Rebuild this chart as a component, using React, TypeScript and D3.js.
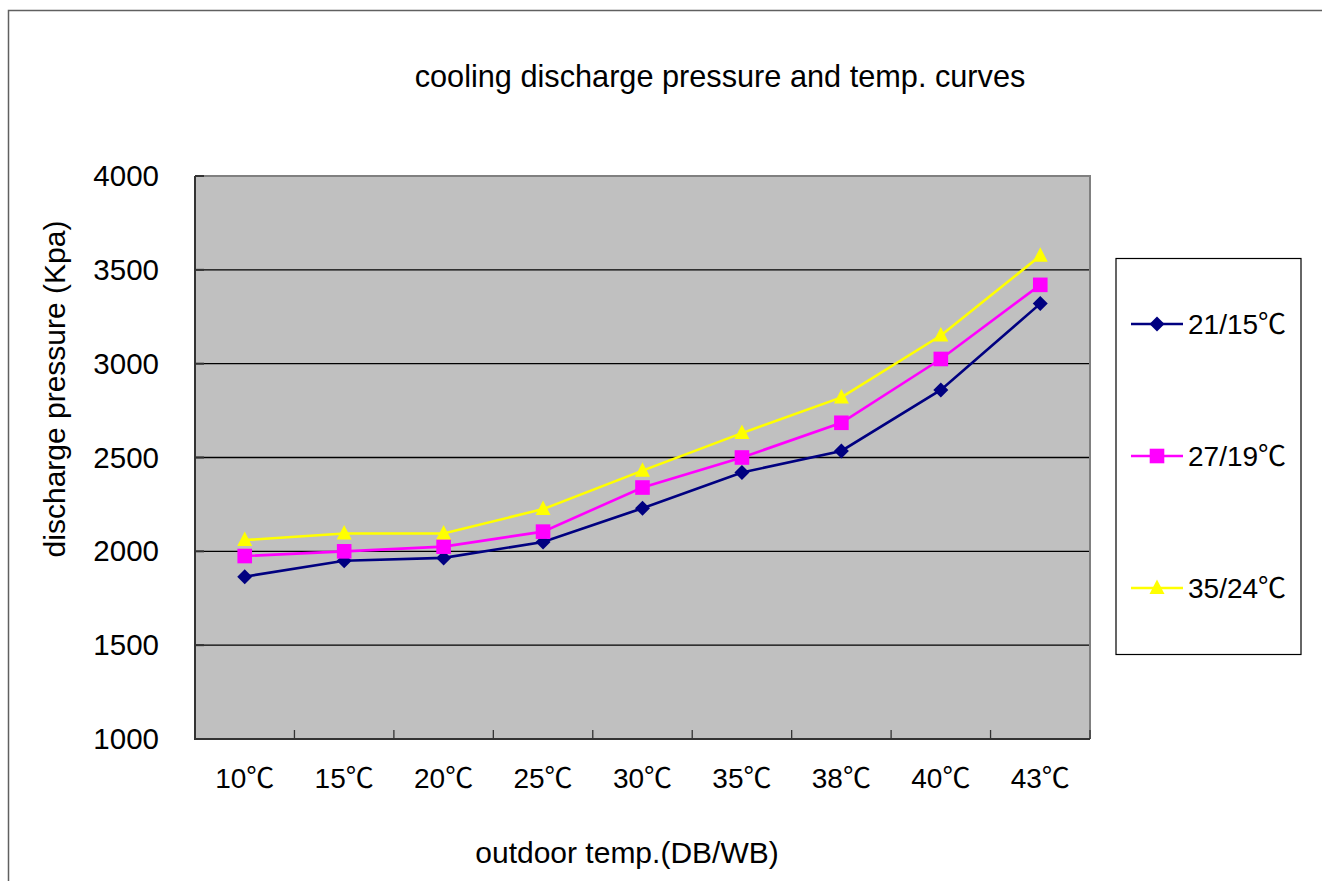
import React from "react";
import * as d3 from "d3";

const categories = ["10℃", "15℃", "20℃", "25℃", "30℃", "35℃", "38℃", "40℃", "43℃"];
const seriesNames = ["21/15℃", "27/19℃", "35/24℃"];
const series1 = [1865, 1950, 1965, 2050, 2230, 2420, 2535, 2860, 3320];
const series2 = [1975, 2000, 2025, 2105, 2340, 2500, 2685, 3025, 3420];
const series3 = [2060, 2095, 2095, 2225, 2430, 2630, 2820, 3150, 3575];
const yTicks = [1000, 1500, 2000, 2500, 3000, 3500, 4000];
const colors = ["#000080", "#FF00FF", "#FFFF00"];
const markers = ["diamond", "square", "triangle"];

const FONT = "'Liberation Sans', Arial, 'Noto Sans CJK SC', sans-serif";

function Marker({ type, x, y, color }: { type: string; x: number; y: number; color: string }) {
  if (type === "diamond") {
    const r = 7.5;
    return <path d={`M${x},${y - r}L${x + r},${y}L${x},${y + r}L${x - r},${y}Z`} fill={color} />;
  }
  if (type === "square") {
    const r = 7.3;
    return <rect x={x - r} y={y - r} width={2 * r} height={2 * r} fill={color} />;
  }
  return <path d={`M${x},${y - 8.5}L${x + 7.5},${y + 6}L${x - 7.5},${y + 6}Z`} fill={color} />;
}

export default function App() {
  const left = 195, right = 1090, top = 176, bottom = 739;
  const x = d3.scaleBand<string>().domain(categories).range([left, right]).padding(0);
  const y = d3.scaleLinear().domain([1000, 4000]).range([bottom, top]);
  const cx = (c: string) => (x(c) as number) + x.bandwidth() / 2;
  const data = [series1, series2, series3];
  const line = d3
    .line<number>()
    .x((_, i) => cx(categories[i]))
    .y((d) => y(d));

  const legendY = [324, 456, 588];

  return (
    <svg
      width={1322}
      height={881}
      style={{ position: "absolute", left: 0, top: 0, background: "#fff" }}
      fontFamily={FONT}
    >
      <rect x={0} y={0} width={1322} height={881} fill="#fff" />
      {/* outer frame */}
      <path d="M8.5,881V10.5H1322" fill="none" stroke="#606060" strokeWidth={1.5} />

      {/* title */}
      <text x={720} y={87} textAnchor="middle" fontSize={30.7} fill="#000">
        cooling discharge pressure and temp. curves
      </text>

      {/* plot area */}
      <rect x={left} y={top} width={right - left} height={bottom - top} fill="#C0C0C0" />
      {yTicks
        .filter((t) => t !== 1000 && t !== 4000)
        .map((t) => (
          <line key={t} x1={left} x2={right} y1={y(t)} y2={y(t)} stroke="#000" strokeWidth={1.3} />
        ))}
      <path
        d={`M${left},${top}H${right}V${bottom}`}
        fill="none"
        stroke="#808080"
        strokeWidth={2}
      />
      {/* y ticks inside */}
      {yTicks.map((t) => (
        <line key={"yt" + t} x1={left} x2={left + 9} y1={y(t)} y2={y(t)} stroke="#333" strokeWidth={2} />
      ))}
      {/* x ticks (category boundaries) */}
      {categories.slice(1).map((c) => (
        <line
          key={"xt" + c}
          x1={x(c) as number}
          x2={x(c) as number}
          y1={bottom}
          y2={bottom - 9}
          stroke="#333"
          strokeWidth={1.3}
        />
      ))}
      <line x1={right} x2={right} y1={bottom} y2={bottom - 9} stroke="#333" strokeWidth={1.3} />
      <path d={`M${left},${top}V${bottom}H${right}`} fill="none" stroke="#333" strokeWidth={2} />

      {/* y tick labels */}
      {yTicks.map((t) => (
        <text key={"yl" + t} x={159} y={y(t) + 10} textAnchor="end" fontSize={29.5} fill="#000">
          {t}
        </text>
      ))}
      {/* x tick labels */}
      {categories.map((c) => (
        <text key={"xl" + c} x={cx(c)} y={788} textAnchor="middle" fontSize={28} fill="#000">
          {c}
        </text>
      ))}

      {/* axis titles */}
      <text
        transform="translate(65,389) rotate(-90)"
        textAnchor="middle"
        fontSize={30}
        fill="#000"
      >
        discharge pressure (Kpa)
      </text>
      <text x={627} y={863} textAnchor="middle" fontSize={30} fill="#000">
        outdoor temp.(DB/WB)
      </text>

      {/* series */}
      {data.map((s, si) => (
        <g key={"s" + si}>
          <path d={line(s) as string} fill="none" stroke={colors[si]} strokeWidth={2.6} />
          {s.map((v, i) => (
            <Marker key={i} type={markers[si]} x={cx(categories[i])} y={y(v)} color={colors[si]} />
          ))}
        </g>
      ))}

      {/* legend */}
      <rect x={1116} y={258.5} width={185} height={396} fill="#fff" stroke="#000" strokeWidth={1.2} />
      {seriesNames.map((n, i) => (
        <g key={"lg" + i}>
          <line x1={1131} x2={1183} y1={legendY[i]} y2={legendY[i]} stroke={colors[i]} strokeWidth={2.6} />
          <Marker type={markers[i]} x={1157} y={legendY[i]} color={colors[i]} />
          <text x={1188} y={legendY[i] + 10} fontSize={28} fill="#000">
            {n}
          </text>
        </g>
      ))}
    </svg>
  );
}
